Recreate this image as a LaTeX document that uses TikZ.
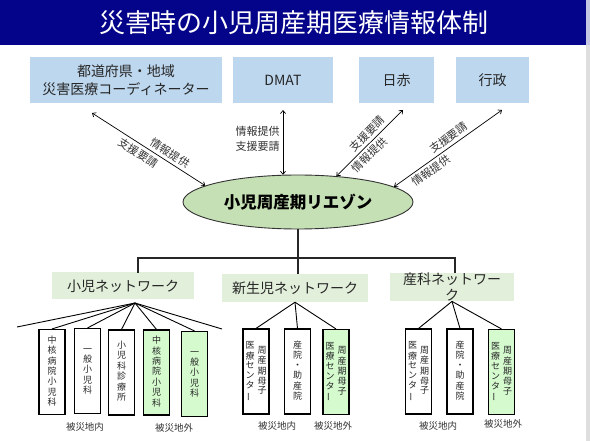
\documentclass[tikz,border=0pt]{standalone}
\usepackage{fontspec}
\setmainfont{Noto Sans CJK JP}
\usetikzlibrary{arrows.meta,shapes.geometric}
\definecolor{bandblue}{RGB}{4,4,138}
\definecolor{bandedge}{RGB}{196,198,228}
\definecolor{topblue}{RGB}{189,215,238}
\definecolor{liaisongreen}{RGB}{197,224,180}
\definecolor{netgreen}{RGB}{226,239,218}
\definecolor{outgreen}{RGB}{212,250,206}
\newcommand{\vcol}[1]{\begin{tabular}[c]{@{}c@{}}#1\end{tabular}}
\newcommand{\vbar}{\rotatebox[origin=c]{90}{ー}}

\begin{document}
\begin{tikzpicture}[x=1pt,y=-1pt,
    topbox/.style={fill=topblue,inner sep=0pt,align=center,minimum height=46pt,text=black!85,font=\fontsize{14}{18}\selectfont},
    netbox/.style={fill=netgreen,inner sep=0pt,align=center,minimum height=27pt,text=black!85,font=\fontsize{14}{16}\selectfont},
    facbox/.style={draw=black,line width=1.1pt,fill=white,inner sep=0pt,minimum width=26pt,minimum height=85pt,text=black!85,font=\fontsize{9}{9.7}\selectfont},
    outbox/.style={facbox,fill=outgreen},
    arr/.style={<->,>={Straight Barb[length=3pt,width=5pt]},line width=0.7pt},
    lbl/.style={inner sep=1pt,text=black!80,font=\fontsize{11}{15}\selectfont},
    tree/.style={line width=1.1pt,black!85},
    fan/.style={line width=0.9pt},
    areatxt/.style={text=black!80,font=\fontsize{9.5}{10}\selectfont}]
  \useasboundingbox (0,0) rectangle (590,441);
  % title band
  \fill[bandblue] (0,0) rectangle (586,45);
  \fill[bandedge] (586,0) rectangle (590,45);
  \fill[black!13] (586,45) rectangle (590,441);
  \node[text=white,font=\fontsize{26}{30}\selectfont] (title) at (294,23) {災害時の小児周産期医療情報体制};

  % upper partners
  \node[topbox,minimum width=192pt] (pref) at (126,80) {都道府県・地域\\災害医療コーディネーター};
  \node[topbox,minimum width=100pt] (dmat) at (283,80) {DMAT};
  \node[topbox,minimum width=75pt] (jrc) at (396.5,80) {日赤};
  \node[topbox,minimum width=73pt] (gov) at (492.5,80) {行政};

  \node[ellipse,draw=black!80,line width=0.9pt,fill=liaisongreen,minimum width=230pt,minimum height=54pt,inner sep=0pt,
        font=\bfseries\fontsize{16.5}{18}\selectfont] (liaison) at (298,202) {小児周産期リエゾン};

  \coordinate (preftip) at (92,113);
  \coordinate (dmattip) at (283,110);
  \coordinate (jrctip) at (403,110);
  \coordinate (govtip) at (502,110);
  \draw[arr] (preftip) -- node[lbl,pos=.65,sloped,above=2pt] {情報提供} node[lbl,pos=.45,sloped,below=2pt] {支援要請} (liaison.170);
  \draw[arr] (dmattip) -- node[lbl,pos=.45,left=2pt,align=center] {情報提供\\支援要請} (dmattip |- liaison.121);
  \draw[arr] (jrctip) -- node[lbl,pos=.45,sloped,above=2pt] {支援要請} node[lbl,pos=.59,sloped,below=2pt] {情報提供} (liaison.34);
  \draw[arr] (govtip) -- node[lbl,pos=.45,sloped,above=2pt] {支援要請} node[lbl,pos=.70,sloped,below=2pt] {情報提供} (liaison.9);

  % networks
  \node[netbox,minimum width=142pt] (pednet) at (123,286) {小児ネットワーク};
  \node[netbox,minimum width=146pt,minimum height=28pt] (neonet) at (295,288) {新生児ネットワーク};
  \node[netbox,minimum width=124pt] (obsnet) at (452,287) {産科ネットワー\\ク};

  \coordinate (fork) at (298,258);
  \coordinate (pedtop) at (138,273);
  \coordinate (obstop) at (455,273);
  \draw[tree] (pedtop) |- (fork) -| (obstop);
  \draw[tree] (liaison.south) -- (liaison.south |- neonet.north);

  % facilities
  \node[facbox] (pedA) at (52,372) {\vcol{中\\核\\病\\院\\小\\児\\科}};
  \node[facbox] (pedB) at (87.5,371) {\vcol{一\\般\\小\\児\\科}};
  \node[facbox] (pedC) at (121.5,372.5) {\vcol{小\\児\\科\\診\\療\\所}};
  \node[outbox] (pedD) at (156.5,372.5) {\vcol{中\\核\\病\\院\\小\\児\\科}};
  \node[outbox] (pedE) at (194.5,374) {\vcol{一\\般\\小\\児\\科}};

  \node[facbox] (neoA) at (256,371.5) {\vcol{医\\療\\セ\\ン\\タ\\\vbar}\hspace{3pt}\vcol{周\\産\\期\\母\\子}};
  \node[facbox] (neoB) at (297.5,371.5) {\vcol{産\\院\\・\\助\\産\\院}};
  \node[outbox] (neoC) at (336,372) {\vcol{医\\療\\セ\\ン\\タ\\\vbar}\hspace{3pt}\vcol{周\\産\\期\\母\\子}};

  \node[facbox] (obsA) at (418.5,371.5) {\vcol{医\\療\\セ\\ン\\タ\\\vbar}\hspace{3pt}\vcol{周\\産\\期\\母\\子}};
  \node[facbox] (obsB) at (460,371.5) {\vcol{産\\院\\・\\助\\産\\院}};
  \node[outbox] (obsC) at (501.5,372) {\vcol{医\\療\\セ\\ン\\タ\\\vbar}\hspace{3pt}\vcol{周\\産\\期\\母\\子}};

  \coordinate (pedfan) at (135,303);
  \coordinate (pedleft) at (17,327);
  \coordinate (pedright) at (222,329);
  \draw[fan] (pedfan) -- (pedleft);
  \draw[fan] (pedfan) -- (pedright);
  \foreach \f in {pedA,pedB,pedC,pedD,pedE} {
    \draw[fan] (pedfan) -- (\f.north);
  }
  \foreach \f in {neoA,neoB,neoC} {
    \draw[fan] (neonet.south) -- (\f.north);
  }
  \foreach \f in {obsA,obsB,obsC} {
    \draw[fan] (obsnet.south) -- (\f.north);
  }

  \node[areatxt] (pedin) at (85,427) {被災地内};
  \node[areatxt] (pedout) at (174,428) {被災地外};
  \node[areatxt] (neoin) at (277,426) {被災地内};
  \node[areatxt] (neoout) at (333,426) {被災地外};
  \node[areatxt] (obsin) at (438,426) {被災地内};
  \node[areatxt] (obsout) at (503,424) {被災地外};
\end{tikzpicture}
\end{document}
